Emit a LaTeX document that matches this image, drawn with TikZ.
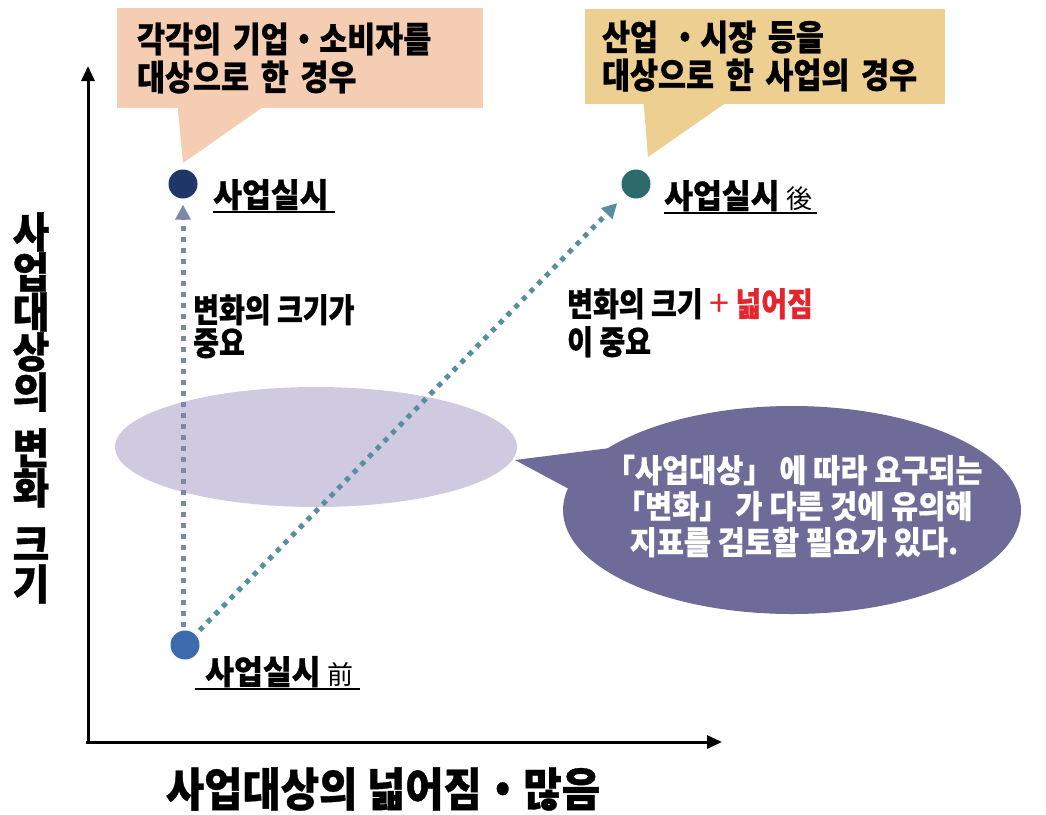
\documentclass[tikz,border=0pt]{standalone}
\usepackage{fontspec}
\usetikzlibrary{arrows.meta,shapes.geometric}
\newfontfamily\krA[FakeStretch=0.87, BoldFeatures={FakeBold=0.8}]{Noto Sans CJK KR}
\newfontfamily\krB[FakeStretch=0.92, BoldFeatures={FakeBold=0.6}]{Noto Sans CJK KR}
\newfontfamily\krC[FakeStretch=0.95, BoldFeatures={FakeBold=0.8}]{Noto Sans CJK KR}
\newfontfamily\krD[FakeStretch=0.905, BoldFeatures={FakeBold=0.8}]{Noto Sans CJK KR}
\newfontfamily\krE[FakeStretch=0.85, BoldFeatures={FakeBold=0.7}]{Noto Sans CJK KR}
\newfontfamily\krR{Noto Sans CJK KR}
\definecolor{peach}{HTML}{F5CDB2}
\definecolor{tanbox}{HTML}{EDCF91}
\definecolor{navy}{HTML}{1F3768}
\definecolor{tealdot}{HTML}{2B6B69}
\definecolor{dotblue}{HTML}{3C6BAD}
\definecolor{vline}{HTML}{7B88A8}
\definecolor{dline}{HTML}{5690A0}
\definecolor{lav}{HTML}{D0CAE1}
\definecolor{bubble}{HTML}{6F6B99}
\definecolor{plusred}{HTML}{E3262E}
\begin{document}
\begin{tikzpicture}[x=1pt,y=-1pt,
  box/.style={rectangle, inner xsep=0pt, inner ysep=0pt, align=left, text=black,
    font=\krA\bfseries\fontsize{35}{38}\selectfont},
  pt/.style={circle, inner sep=0pt, minimum size=29pt},
  ptlab/.style={inner sep=0pt, anchor=base west, font=\krC\bfseries\fontsize{33}{36}\selectfont},
  kanji/.style={font=\krR\mdseries\fontsize{26}{28}\selectfont},
  uline/.style={line width=1.6pt},
  note/.style={inner sep=0pt, anchor=north west, align=left,
    font=\krE\bfseries\fontsize{33}{33}\selectfont},
  axisline/.style={line width=3pt, -{Triangle[length=15pt,width=13pt]}},
  vdots/.style={draw=vline, line width=5pt, dash pattern=on 5pt off 6pt,
    -{Triangle[length=15pt,width=15pt]}},
  ddots/.style={draw=dline, line width=5pt, dash pattern=on 5pt off 6pt,
    -{Triangle[length=15pt,width=15pt]}}
]
\useasboundingbox[fill=white] (0,0) rectangle (1046,814);

% axes
\coordinate (O) at (86,742);
\coordinate (ytip) at (88,66);
\coordinate (xtip) at (722,742);
\draw[axisline] (88,743) -- (ytip);
\draw[axisline] (O) -- (xtip);

% axis labels
\node[inner sep=0pt, align=center, font=\krC\bfseries\fontsize{42}{40}\selectfont] (ylab) at (31,408)
  {사\\업\\대\\상\\의\\[16pt]변\\화\\[16pt]크\\기};
\node[inner sep=0pt, font=\krD\bfseries\fontsize{46}{48}\selectfont] (xlab) at (383,789)
  {사업대상의 넓어짐・많음};

% callouts
\fill[peach] (177,100) -- (273,100) -- (183,163) -- cycle;
\node[box, fill=peach, minimum width=366pt, minimum height=100pt, text width=326pt] (c1) at (300,58)
  {\rule{0pt}{0pt}\raisebox{-3pt}{}각각의 기업・소비자를\\대상으로 한 경우};
\fill[tanbox] (643,95) -- (737,95) -- (648,157) -- cycle;
\node[box, fill=tanbox, minimum width=360pt, minimum height=95pt, text width=326pt] (c2) at (765,56)
  {산업 ・시장 등을\\대상으로 한 사업의 경우};

% lavender ellipse
\node[ellipse, fill=lav, inner sep=0pt, minimum width=402pt, minimum height=120pt] (lav) at (316,447) {};

% points
\node[pt, fill=navy] (tl) at (183,184) {};
\node[pt, fill=tealdot] (tr) at (636,184) {};
\node[pt, fill=dotblue] (bot) at (185,645) {};

% dotted arrows
\draw[vdots, shorten >=6pt, shorten <=3pt] (bot.north -| tl) -- (tl.south);
\draw[ddots, shorten >=12pt, shorten <=6pt] (bot.north east) -- (tr.south west);

% point labels
\node[ptlab] (tllab) at (213,207) {사업실시};
\draw[uline] ([yshift=-5pt]tllab.base west) -- ([yshift=-5pt,xshift=6pt]tllab.base east);
\node[ptlab] (trlab) at (664,208) {사업실시 {\krR\mdseries\fontsize{26}{28}\selectfont 後}};
\draw[uline] ([yshift=-5pt]trlab.base west) -- ([yshift=-5pt,xshift=4pt]trlab.base east);
\node[ptlab] (botlab) at (205,684) {사업실시 {\krR\mdseries\fontsize{26}{28}\selectfont 前}};
\draw[uline] ([yshift=-5pt,xshift=-10pt]botlab.base west) -- ([yshift=-5pt,xshift=6pt]botlab.base east);

% notes
\node[note] (n1) at (193,294) {변화의 크기가\\중요};
\node[note, font=\krE\bfseries\fontsize{33}{38}\selectfont] (n2) at (567,288)
  {변화의 크기 {\color{plusred}{\krR\mdseries\fontsize{36}{38}\selectfont +} 넓어짐}\\이 중요};

% speech bubble
\fill[bubble] (515,460) -- (610,448) -- (582,496) -- cycle;
\node[ellipse, fill=bubble, inner sep=0pt, minimum width=458pt, minimum height=208pt] (bub) at (792,510) {};
\node[inner sep=0pt, align=center, text=white, font=\krB\bfseries\fontsize{32}{36}\selectfont] (bubtext) at (794,506)
  {「사업대상」 에 따라 요구되는\\「변화」 가 다른 것에 유의해\\지표를 검토할 필요가 있다.};
\end{tikzpicture}
\end{document}
